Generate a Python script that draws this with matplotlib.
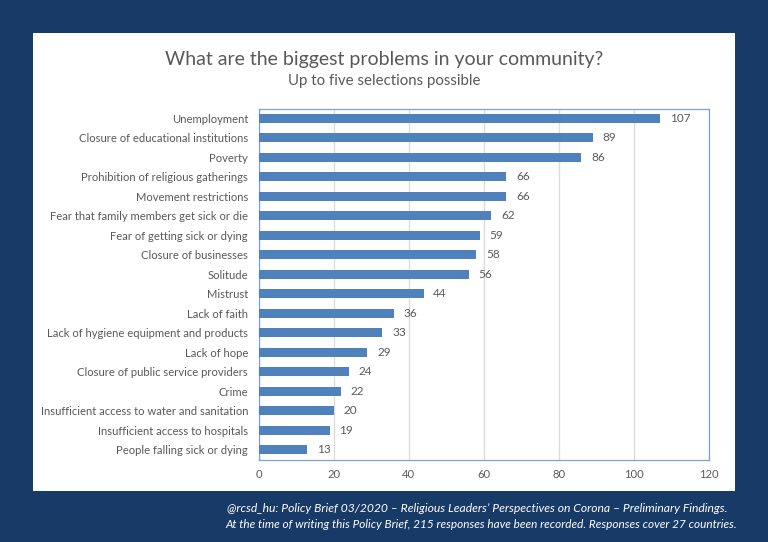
import matplotlib
matplotlib.use("Agg")
import matplotlib.pyplot as plt
from matplotlib.patches import Rectangle

categories = ["Unemployment", "Closure of educational institutions", "Poverty",
              "Prohibition of religious gatherings", "Movement restrictions",
              "Fear that family members get sick or die", "Fear of getting sick or dying",
              "Closure of businesses", "Solitude", "Mistrust", "Lack of faith",
              "Lack of hygiene equipment and products", "Lack of hope",
              "Closure of public service providers", "Crime",
              "Insufficient access to water and sanitation",
              "Insufficient access to hospitals", "People falling sick or dying"]
values = [107, 89, 86, 66, 66, 62, 59, 58, 56, 44, 36, 33, 29, 24, 22, 20, 19, 13]
xticks = [0, 20, 40, 60, 80, 100, 120]

title = "What are the biggest problems in your community?"
subtitle = "Up to five selections possible"
footer1 = "@rcsd_hu: Policy Brief 03/2020 – Religious Leaders’ Perspectives on Corona – Preliminary Findings."
footer2 = "At the time of writing this Policy Brief, 215 responses have been recorded. Responses cover 27 countries."

W, H = 768, 542
NAVY = "#183a66"
GREY = "#595959"
BLUE = "#4f81bd"

plt.rcParams["font.family"] = ["Lato", "DejaVu Sans"]

fig = plt.figure(figsize=(W / 100, H / 100), dpi=100, facecolor=NAVY)
fig.add_artist(Rectangle((33 / W, 1 - 491 / H), 702 / W, 458 / H, transform=fig.transFigure,
                         facecolor="white", edgecolor="none", zorder=-1))

ax = fig.add_axes([258.5 / W, 1 - 459.5 / H, 450.5 / W, 351 / H])
ax.set_facecolor("none")
ypos = list(range(len(values)))
ax.barh(ypos, values, height=0.45, color=BLUE, zorder=3)
ax.set_ylim(len(values) - 0.5, -0.5)
ax.set_xlim(0, 120)
ax.set_xticks(xticks)
ax.set_yticks(ypos)
ax.set_yticklabels(categories)
ax.tick_params(axis="both", length=0, labelcolor=GREY, labelsize=8.1)
ax.tick_params(axis="y", pad=7.5)
ax.tick_params(axis="x", pad=7)
ax.grid(axis="x", color="#dcdcdc", linewidth=1, zorder=0)
for s in ax.spines.values():
    s.set_color("#7fa3cf")
    s.set_linewidth(0.9)

for y, v in zip(ypos, values):
    ax.annotate(str(v), (v, y), xytext=(7, 0), textcoords="offset points",
                va="center", ha="left", color=GREY, fontsize=8.5, zorder=4)

fig.text(384 / W, 1 - 59.5 / H, title, ha="center", va="center", color=GREY, fontsize=14)
fig.text(384 / W, 1 - 81.5 / H, subtitle, ha="center", va="center", color=GREY, fontsize=10.8)
fig.text(227 / W, 1 - 508 / H, footer1, ha="left", va="center", color="white",
         fontsize=8.7, style="italic")
fig.text(225 / W, 1 - 524 / H, footer2, ha="left", va="center", color="white",
         fontsize=8.5, style="italic")

fig.savefig("out.png", dpi=100, facecolor=NAVY)
